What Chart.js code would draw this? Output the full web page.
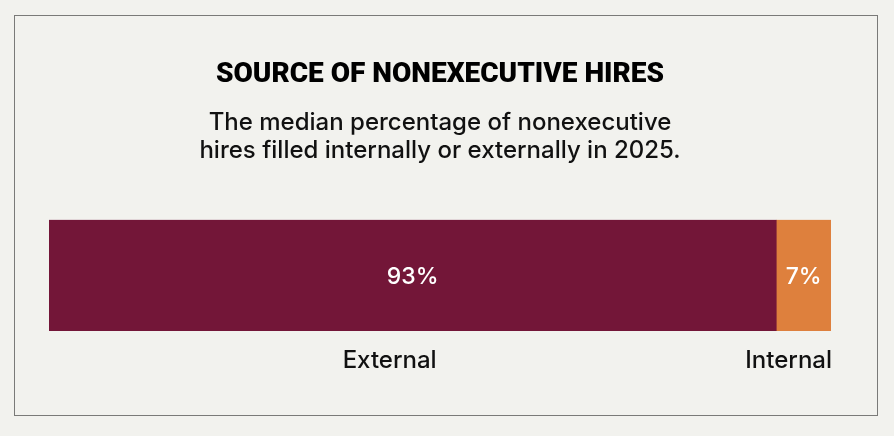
<!DOCTYPE html>
<html>
<head>
<meta charset="utf-8">
<title>Source of nonexecutive hires</title>
<script src="https://cdn.jsdelivr.net/npm/chart.js@4/dist/chart.umd.min.js"></script>
<style>
    html, body { margin: 0; padding: 0; background: #F2F2EE; }
    .wrap { position: relative; width: 894px; height: 436px; }
    .frame { position: absolute; left: 14px; top: 15px; width: 862px; height: 399px; border: 1.5px solid #7a7a78; }
    #sourceChart { position: absolute; left: 0; top: 0; }
</style>
</head>
<body>
<div class="wrap">
    <div class="frame"></div>
    <canvas id="sourceChart" width="894" height="436"></canvas>
</div>
<script>
// data
const categories = ['External', 'Internal'];
const shares = [93, 7];
const segmentColors = ['#731638', '#DE803D'];
const titleText = 'SOURCE OF NONEXECUTIVE HIRES';
const subtitleLines = ['The median percentage of nonexecutive', 'hires filled internally or externally in 2025.'];

const App = (function() {

    // white % inside each segment + category name under it
    const segmentLabels = {
        id: 'segmentLabels',
        afterDatasetsDraw: function(chart, args, opts) {
            const ctx = chart.ctx;
            const area = chart.chartArea;
            ctx.save();
            chart.data.datasets.forEach(function(ds, i) {
                const bar = chart.getDatasetMeta(i).data[0];
                const left = bar.base;
                const right = bar.x;
                ctx.font = opts.valueFont;
                ctx.fillStyle = '#ffffff';
                ctx.textAlign = 'center';
                ctx.textBaseline = 'middle';
                ctx.fillText(ds.data[0] + '%', (left + right) / 2, bar.y + 2);

                ctx.font = opts.nameFont;
                ctx.fillStyle = '#111111';
                ctx.textAlign = opts.align[i];
                const x = opts.align[i] === 'right' ? right + opts.offsets[i] : (left + right) / 2 + opts.offsets[i];
                ctx.fillText(ds.label, x, area.bottom + 30);
            });
            ctx.restore();
        }
    };

    const chart = function() {
        const ctx = document.getElementById('sourceChart');

        new Chart(ctx, {
            type: 'bar',
            data: {
                labels: [''],
                datasets: categories.map(function(name, i) {
                    return {
                        label: name,
                        data: [shares[i]],
                        backgroundColor: segmentColors[i],
                        borderWidth: 0,
                        barPercentage: 1,
                        categoryPercentage: 1
                    };
                })
            },
            options: {
                indexAxis: 'y',
                responsive: false,
                animation: false,
                layout: {
                    padding: { top: 0, left: 49, right: 63, bottom: 105 }
                },
                scales: {
                    x: { stacked: true, min: 0, max: 100, display: false },
                    y: { stacked: true, display: false }
                },
                plugins: {
                    legend: { display: false },
                    tooltip: { enabled: false },
                    title: {
                        display: true,
                        text: titleText,
                        color: '#000000',
                        font: { family: 'Roboto', size: 28, weight: '900', lineHeight: 1.2 },
                        padding: { top: 58, bottom: 17 }
                    },
                    subtitle: {
                        display: true,
                        text: subtitleLines,
                        color: '#111111',
                        font: { family: 'Inter', size: 24, weight: '500', lineHeight: 1.17 },
                        padding: { top: 0, bottom: 55 }
                    },
                    segmentLabels: {
                        valueFont: '500 23px "Inter"',
                        nameFont: '500 24px "Inter"',
                        align: ['center', 'right'],
                        offsets: [-23, 1]
                    }
                }
            },
            plugins: [segmentLabels]
        });
    };

    const init = function() {
        chart();
    };

    return {
        init: init
    };

})();

App.init();
</script>
</body>
</html>
